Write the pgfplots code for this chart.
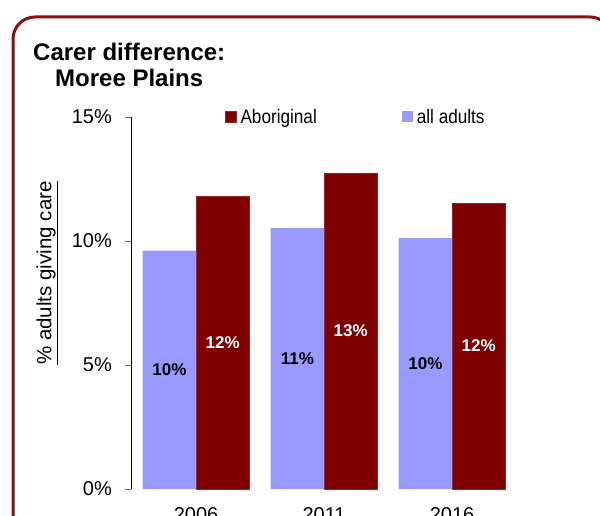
\documentclass[border=0pt]{standalone}
\usepackage{pgfplots}
\pgfplotsset{compat=1.18}
\usepackage{fontspec}
\setmainfont{Liberation Sans}
\newfontfamily\narrowfont{Liberation Sans}[FakeStretch=0.88]
\definecolor{aborig}{RGB}{128,0,0}
\definecolor{alladults}{RGB}{153,153,255}
\definecolor{frame}{RGB}{138,14,14}
\begin{document}
\begin{tikzpicture}[x=1pt,y=1pt]
\useasboundingbox (0,0) rectangle (600,515);
% frame (pixel y -> 515 - y)
\draw[frame, line width=3pt, rounded corners=22pt] (13,498) rectangle (612,-30);
% title
\node[anchor=base west, inner sep=0pt, font=\fontsize{24pt}{28pt}\selectfont\bfseries] at (33,454) {Carer difference:};
\node[anchor=base west, inner sep=0pt, font=\fontsize{24pt}{28pt}\selectfont\bfseries] at (55,428) {Moree Plains};
% y label
\node[rotate=90, inner sep=0pt, font=\fontsize{20.5pt}{24pt}\selectfont] at (47,242) {\underline{\% adults giving care}};
\begin{axis}[
  at={(131pt,26pt)}, anchor=south west,
  scale only axis, width=385pt, height=372pt,
  xmin=-0.508, xmax=2.5, ymin=0, ymax=15,
  axis lines*=left,
  x axis line style={draw=none},
  y axis line style={black, line width=0.9pt},
  ybar, bar width=53.3pt,
  ytick={0,5,10,15}, yticklabels={0\%,5\%,10\%,15\%},
  xtick={0,1,2}, xticklabels={2006,2011,2016},
  tick align=outside,
  major tick length=6pt,
  ytick style={black!60, line width=0.9pt},
  xtick style={draw=none},
  yticklabel style={inner sep=0pt, xshift=-13pt, font=\fontsize{20pt}{24pt}\selectfont},
  xticklabel style={inner sep=0pt, yshift=-12pt, font=\fontsize{20pt}{24pt}\selectfont},
  /pgf/number format/assume math mode=true,
  legend columns=2,
  legend style={draw=none, fill=none, inner sep=0pt, at={(0.244,1.0)}, anchor=west,
    font=\narrowfont\fontsize{19.5pt}{22pt}\selectfont,
    nodes={inner sep=0pt},
    /tikz/every odd column/.append style={column sep=4pt},
    /tikz/every even column/.append style={column sep=85pt}},
  legend image code/.code={\fill[#1] (0pt,-5.5pt) rectangle (11pt,5.5pt);},
  visualization depends on={rawy \as \rawy},
  nodes near coords={\pgfmathprintnumber[fixed,precision=0]{\pgfplotspointmeta}\%},
  every node near coord/.append style={anchor=center, font=\fontsize{17pt}{20pt}\selectfont\bfseries, shift={(axis direction cs:0,-\rawy/2)}},
]
\addplot[fill=aborig, draw=aborig!85!white, line width=0.4pt, bar shift=26.65pt,
  every node near coord/.append style={text=white}]
  coordinates {(0,11.81) (1,12.74) (2,11.53)};
\addlegendentry{Aboriginal}
\addplot[fill=alladults, draw=none, bar shift=-26.65pt,
  every node near coord/.append style={text=black}]
  coordinates {(0,9.61) (1,10.52) (2,10.12)};
\addlegendentry{all adults}
\end{axis}
\end{tikzpicture}
\end{document}
